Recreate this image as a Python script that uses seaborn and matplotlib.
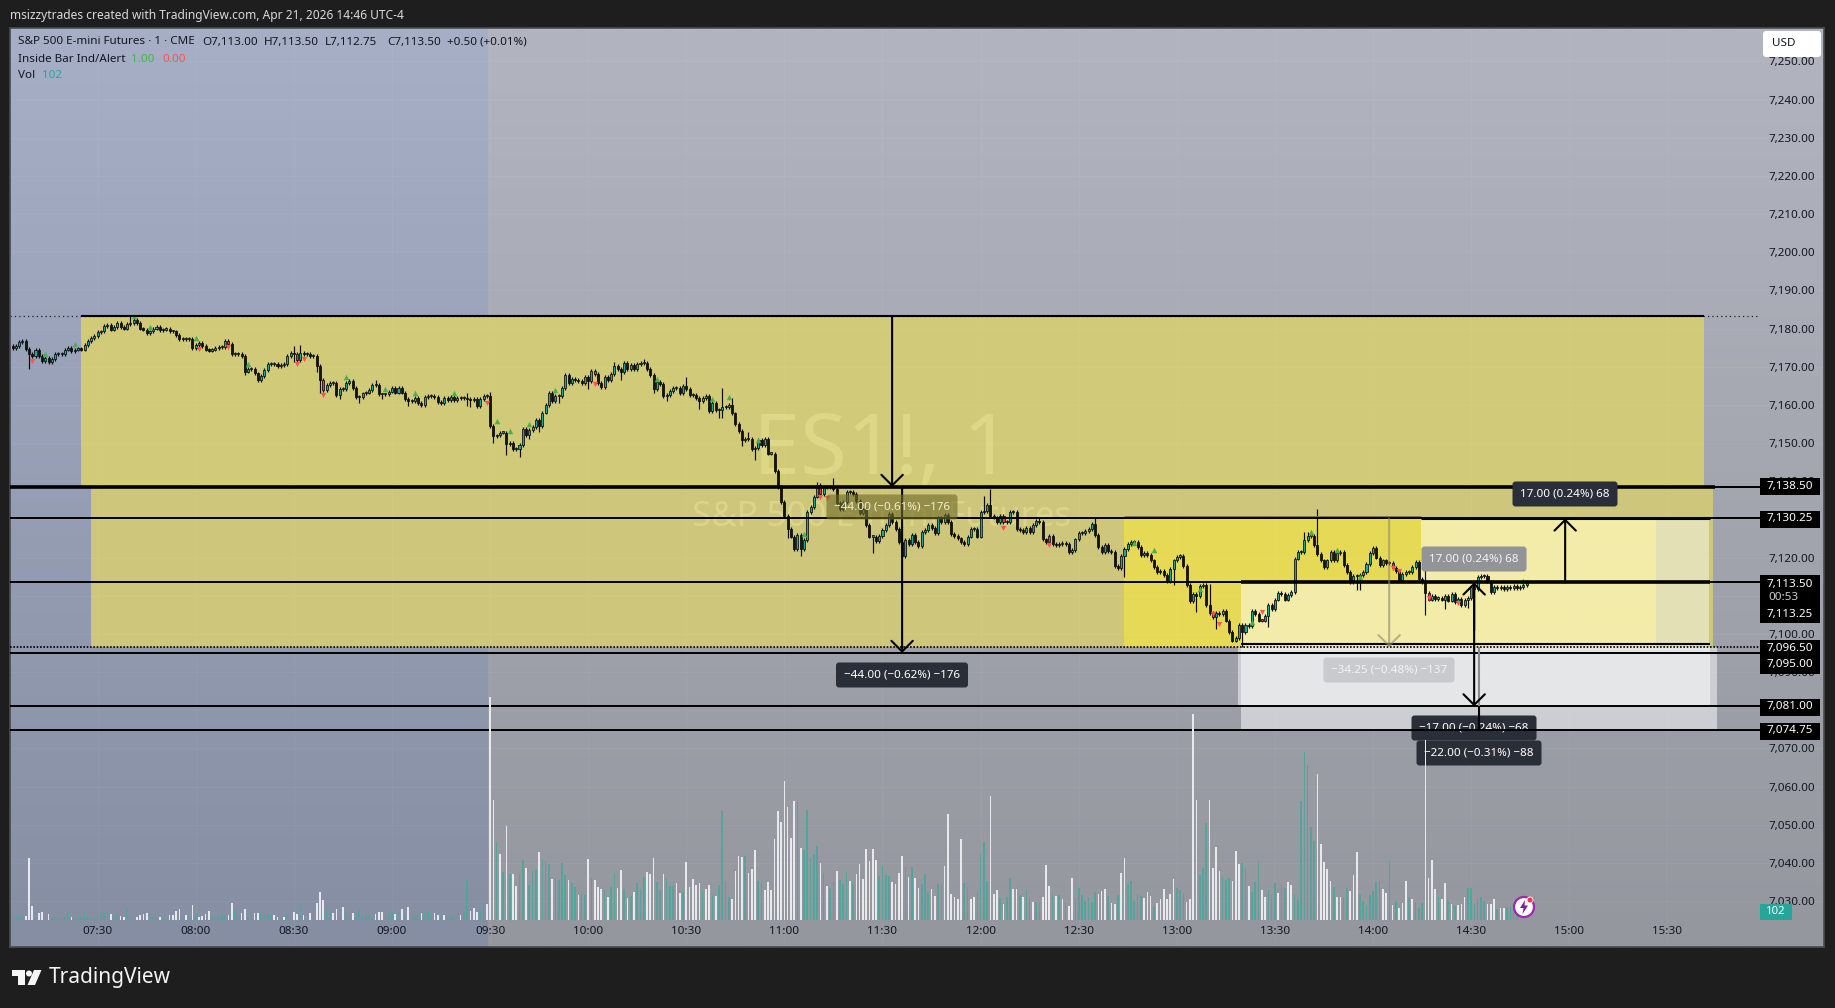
import numpy as np
import pandas as pd
import matplotlib
matplotlib.use("Agg")
import matplotlib.pyplot as plt
import seaborn as sns
from matplotlib.patches import FancyBboxPatch, Rectangle, Circle, Polygon
from matplotlib.transforms import Affine2D

W, H = 1835, 1008
# ---------- data ----------
closes_pre = [7175,7175.5,7176.5,7176.75,7174.75,7173.25,7172.75,7174.5,7172.75,7171.5,7172.25,7171.25,7172,7173.25,7173.25,7173.25,7174.5,7175,7174,7174.5,7174.75,7174.5,7175.75,
7176.75,7177.5,7178,7179,7179.25,7180.75,7181,7179.75,7180.5,7181.5,7180.5,7180,7181.25,7181.5,7182.25,7181.5,7180,7179.75,7178.75,7179.25,7180,7180.5,7179.5,7179.75,7180,7179.25,7179.25,7178.25,7177.25,7177.25,7177.25,7177.25,7175,7175.75,7176.25,7175.5,7174.5,7174.25,7174.5,7175,7175.25,7175.25,7176.75,7176,7173.25,7173.25,7173.25,7172.75,7168.75,7169.5,7169.5,7168.25,7166.5,7167.5,7169.25,7170.75,7170.75,7170.75,7170.25,7170.5,7170.75,7172.75,7173.5,7173.25,7171.75,7173.5,7173.25,7173.25,7172.75,7172.75,7170.25,7166.5,7164,7165.25,7165.75,7165.75,7162.5,7164.25,7164.25,7165.75,7166.25,7164.5,7162,7162,7163,7163.25,7164,7165.25,7165.25,7162.75,7162.75,7162.75,7163.5,7164.5,7163.25,7164.5,7163.25,7161.5,7161,7161,7161.75,7160.5,7160,7162,7162.25,7162.25,7162,7160.75,7160.5,7161.75,7161.25,7162,7161.25,7161.75,7161.75,7161.75,7161.5,7161.25,7161.5,7159.75,7161.5,7162.25,7162.25]
closes_rth = [7154.5,7151.75,7152,7152.75,7152.75,7149.75,7150,7148.5,7148.5,7149.5,7153.75,7152,7153.5,7154.25,7156,7154.5,7158,7160,7163.25,7161,7162.25,7162.25,7164.5,7167.75,7165.75,7166.75,7166.5,7166.25,7165.75,7167.25,7166.25,7169,7168,7165.75,7164.75,7167.25,7166.5,7168,7170.25,7169.5,7168.5,7171,7169.5,7170.5,7169.5,7170.75,7171,7171,7169.5,7167.75,7164.25,7166,7165.5,7162.25,7162.5,7163.75,7164.5,7164.5,7163,7165,7164.25,7162.5,7162.5,7161.75,7161,7161.75,7162.25,7158.5,7160.5,7158.75,7158.75,7159.5,7159.5,7160,7157.75,7155,7153.25,7150.75,7151,7151,7148.5,7148.75,7150.75,7149.5,7151,7147.25,7147.25,7142.75,7138.5,7134.5,7131,7127.5,7125.5,7122.25,7126,7122.25,7124.5,7132,7133.25,7136,7139,7136.75,7138.5,7138.5,7138.5,7138,7134.25,7132.75,7134.5,7137.25,7137.25,7136.75,7134.75,7131.75,7132.75,7128.5,7125.5,7125.5,7124.25,7125.75,7127.25,7128.5,7131.5,7129.25,7127.5,7124,7120.5,7124.5,7123.5,7126,7124,7123,7126.75,7127.25,7128.5,7127.75,7126.5,7130.5,7129.25,7131.25,7129.25,7126.25,7125.75,7125,7124,7123.5,7125.5,7127.5,7127.5,7125.5,7132,7132.25,7133.75,7131,7130.5,7129.25,7131,7129.25,7129.25,7132,7132,7127.5,
7127.25,7126.75,7127.75,7126.75,7128.5,7129.5,7129.25,7124.75,7124,7125.75,7123.5,7123.25,7123.5,7123.75,7123.5,7121.5,7122,7124.75,7126.5,7126.5,7127,7127.5,7128.75,7126,7122.75,7121.5,7123.25,7121.75,7121.5,7117.75,7117.25,7120.5,7122.25,7123.5,7124,7124,7122.75,7120.75,7121.25,7120.75,7119.25,7117.5,7116.25,7116.5,7115.5,7113.75,7117,7119.25,7120.25,7120.5,7117.75,7112.75,7108.5,7110.5,7110,7112.5,7112.75,7107.5,7105.5,7104.5,7105.5,7105.25,7106,7103.5,7100.5,7098.25,7099,7102.25,7100.5,7102.25,7102,7106,7105.25,7103.5,7103.5,7104.75,7107.5,7106.5,7109,7110.75,7110.5,7109,7110.25,7111,7119.75,7121.5,7121.5,7124.5,7125.75,7125.75,7123.25,7121,7119.25,7117.5,7119.25,7121.5,7119.25,7121.25,7121.5,7118,7116.25,7113.5,7115.25,7115.25,7115.5,7116.25,7118.25,7121.25,7122.5,7120,7118,7119.25,7118.5,7118.5,7117.25,7116.5,7114.25,7115.75,7116.25,7116.25,7117.5,7118.75,7114.5,7113.5,7110.75,7109,7110,7109.25,7109.5,7109,7110,7108.75,7110.5,7108.25,7109.25,7107.5,7109,7109.5,7112.25,7111.75,7115,7115.25,7115.25,7113.75,7111,7112.25,7112,7112.25,7111.75,7112.25,7112,7112.5,7112,7112.25,7112.75,7113.5]
first_open = 7175.5
rth_open = 7162.25

long_high_t = [452,460,510,512,535,563,570,608,617,630,641,644,649,670,675,721,723,738,755,790,819,820,823,856]
long_high_p = [7181.25,7183.25,7175.5,7175.75,7166.5,7163.25,7163.5,7171.25,7172,7167.25,7164.5,7161.75,7153,7139.75,7140.9,7136.25,7137.9,7130.6,7130.4,7113.1,7126.75,7126.75,7132.75,7120.1]
long_low_t = [429,495,498,500,510,517,518,519,524,530,537,545,563,564,571,575,579,582,585,590,591,600,610,620,624,634,640,641,644,647,651,661,663,665,687,697,764,779,786,791,792,800,808,835,836,856,858,862,869]
long_low_p = [7169.5,7167.75,7167.75,7166,7171.25,7168.5,7163.25,7163.5,7161.5,7160.5,7161.5,7159.75,7159.75,7159.5,7150,7146.75,7146.4,7151,7153,7160.4,7160.4,7164.2,7166.5,7163,7160.9,7159,7156.5,7156.5,7157.5,7149.25,7145.5,7125,7122.5,7120.4,7121.25,7120.4,7114.9,7112.9,7105.7,7104.6,7101.3,7096.5,7101.75,7111.4,7111.4,7105,7108.75,7106.4,7106.8]

green_t = [434,443,461,466,480,496,526,538,547,559,572,576,582,590,621,638,643,652,666,767,773,787,803,821,829,836,886]
green_p = [7173.4,7176,7183.3,7180.4,7177.6,7170.6,7167.3,7164.2,7163.1,7163.1,7155.8,7153.1,7155,7163.9,7166.8,7161.6,7162.1,7150.8,7126.3,7123.7,7122.1,7111.8,7103,7126.7,7122.1,7115,7113.75]
red_t = [430,481,490,511,513,519,569,602,671,673,727,741,791,793,806,846,848,857,866]
red_p = [7171.4,7174.6,7175.1,7170.6,7172,7162.7,7160.6,7165.6,7136,7135.5,7127.8,7123.2,7105.1,7102.5,7105.7,7117.2,7116.5,7109.4,7108.1]
red_body_t = [481,490,511,519,602,671,727,741,791,806,846,857]

vol_pre = [10,8,15,15,-12,-185,-42,5,-20,-24,12,-18,8,8,10,5,10,24,-10,5,10,8,28,10,10,10,28,22,28,12,-17,8,22,-12,-10,36,15,8,-10,-16,-18,-20,10,8,6,-8,10,5,-14,-14,-28,-32,8,-16,5,-44,18,-10,-12,-18,-26,12,8,8,14,12,-14,-52,34,6,-22,-34,8,24,-22,-22,20,18,18,16,-16,-8,10,-10,18,8,-24,-18,48,-16,8,-22,36,-50,-85,-60,40,22,-22,-32,12,-40,22,24,-20,10,32,12,14,14,8,-18,-24,-24,12,15,24,-18,12,-32,8,-40,18,18,14,-20,22,24,16,-20,-16,10,-16,10,12,8,20,-14,24,122,-26,-35,-24,33,55,-48]
vol_rth = [-670,-360,233,-198,143,-282,137,-137,-102,137,180,-156,105,147,150,-204,180,174,168,-123,126,120,171,135,-120,111,99,-75,81,75,-183,126,-120,-99,-93,90,-69,99,141,-96,-150,93,-66,72,-84,111,93,129,-144,-138,-186,114,90,-138,126,102,102,-111,-81,84,-174,-99,-123,-105,-111,87,-93,-105,75,-72,105,327,117,69,-63,-147,-192,-189,192,-141,-153,-210,117,111,-90,-114,-90,-243,-327,-294,-417,-339,-246,-357,354,-216,210,330,186,198,222,-171,141,-102,96,117,-147,120,108,144,-117,108,-138,-168,-123,-213,-177,-213,-180,132,162,135,132,-114,-108,-141,-192,159,-129,159,-126,-96,108,138,84,-93,-72,108,105,-162,-318,-78,-69,-63,-243,111,99,-63,-69,84,198,234,117,-372,
-78,-90,66,-48,69,126,-93,-93,75,-69,90,66,-54,54,54,-69,-165,-102,75,-72,75,-63,54,-42,-126,66,96,75,57,69,54,84,-78,-87,-93,72,-51,-48,75,-141,-186,108,117,57,78,72,-66,-84,-72,39,-51,-63,-93,-63,-78,-123,96,90,81,-54,-63,-618,-360,135,156,291,-360,-156,-219,-147,132,120,126,-117,-207,-168,171,156,-102,84,114,177,-90,-69,90,75,111,-81,105,96,-114,-105,78,60,357,504,465,279,237,-438,-228,-174,-153,-117,99,-69,-69,66,96,-87,-135,-204,78,57,45,75,87,114,117,-93,-81,177,-45,57,-36,-51,-117,69,-63,54,36,51,-540,-126,-180,-93,69,-63,-111,57,-48,42,-45,-48,-69,96,96,48,63,69,57,-48,-48,-63,33,-36,-36,39,42,30,34]

levels = [7138.5,7130.25,7113.5,7095,7081,7074.75]
zone_top = 7183.25
dotted_levels = [7096.5,7183.25]
y_ticks = list(range(7030,7251,10))
x_tick_minutes = list(range(450,931,30))

# ---------- theme ----------
sns.set_theme(style="white")
plt.rcParams["font.family"] = ["Noto Sans","DejaVu Sans"]
INK = "#131722"; TEAL = "#26a69a"

fig = plt.figure(figsize=(W/100,H/100),dpi=100,facecolor="#1e1e1e")
ax = fig.add_axes([10/W,(H-947)/H,1814/W,919/H])
px = Affine2D().scale(1,-1).translate(0,H)
XL = (423.2,977.9); YL = (7017.96,7258.76)
t_of = lambda x: 450+(x-97.6)/3.27

def grad(c0,c1):
    a = np.linspace(np.array(matplotlib.colors.to_rgb(c0)),np.array(matplotlib.colors.to_rgb(c1)),200)
    return a[:,None,:]
ax.imshow(grad("#a6afc6","#868ea3"),extent=[XL[0],569.5,YL[0],YL[1]],aspect="auto",zorder=-5,interpolation="bilinear")
ax.imshow(grad("#b2b4c0","#95979f"),extent=[569.5,XL[1],YL[0],YL[1]],aspect="auto",zorder=-5,interpolation="bilinear")

def zone(x0,x1,p0,p1,c,z=0.2,alpha=1):
    ax.add_patch(Rectangle((t_of(x0),p0),t_of(x1)-t_of(x0),p1-p0,fc=c,ec="none",zorder=z,alpha=alpha))
zone(81,1704,7138.5,zone_top,"#d1ca78")
zone(91,1713,7096.5,7138.5,"#cec77b")
zone(1124,1421,7096.5,7130.25,"#e6d956")
zone(1421,1709,7113.5,7130.25,"#f3eba8")
zone(1241,1709,7096.5,7113.5,"#f3eba8")
zone(1656,1709,7096.5,7130.25,"#e3e0b6",z=0.3)
zone(1238,1242,7081,7096.5,"#cdced3")
zone(1710,1717,7074.75,7096.5,"#cdced3")
zone(1241,1710,7081,7096.5,"#e5e6e8")
zone(1241,1710,7074.75,7081,"#cdced3")

ax.set_xlim(*XL); ax.set_ylim(*YL)
ax.grid(True,color="white",alpha=0.045,lw=0.8)
ax.set_axisbelow(True)

ax.text(882,452,"ES1!, 1",transform=px,ha="center",va="center",fontsize=61,color="#ffffb0",alpha=0.28,zorder=0.4)
ax.text(882,517,"S&P 500 E-mini Futures",transform=px,ha="center",va="center",fontsize=25,color="#ffffb0",alpha=0.25,zorder=0.4)

times_pre = np.arange(570-len(closes_pre),570)
times_rth = np.arange(570,570+len(closes_rth))
times = np.concatenate([times_pre,times_rth])
closes = np.array(closes_pre+closes_rth,dtype=float)
opens = np.r_[first_open,closes[:-1]]
opens[len(closes_pre)] = rth_open
df = pd.DataFrame({"t":times,"open":opens,"close":closes}).set_index("t",drop=False)
df["high"] = df[["open","close"]].max(axis=1)+0.5
df["low"] = df[["open","close"]].min(axis=1)-0.5
for t,h in zip(long_high_t,long_high_p):
    if t in df.index: df.loc[t,"high"]=max(df.loc[t,"high"],h)
for t,l in zip(long_low_t,long_low_p):
    if t in df.index: df.loc[t,"low"]=min(df.loc[t,"low"],l)
df["up"] = df.close>=df.open
ax.vlines(df.t,df.low,df.high,color="#0a0a0a",lw=0.85,zorder=2.2)
bot = df[["open","close"]].min(axis=1)
ht = (df.close-df.open).abs().clip(lower=0.3)
cols = np.where(df.up,TEAL,"#141414").astype(object)
cols[df.t.isin(red_body_t).values] = "#f23645"
ax.bar(df.t,ht,bottom=bot,width=0.62,color=list(cols),edgecolor="#0a0a0a",linewidth=0.55,zorder=2.3)
sns.scatterplot(x=green_t,y=green_p,marker="^",color="#4caf50",s=16,linewidth=0,ax=ax,zorder=2.4)
sns.scatterplot(x=red_t,y=red_p,marker="v",color="#ff5252",s=14,linewidth=0,ax=ax,zorder=2.4)

XR = t_of(1760)
ax.hlines(levels,XL[0],XR,color="black",lw=1.4,zorder=3)
ax.hlines(7138.5,XL[0],t_of(1715),color="black",lw=2.6,zorder=3)
ax.hlines(zone_top,t_of(81),t_of(1704),color="black",lw=1.5,zorder=3)
ax.hlines(7130.25,t_of(1421),t_of(1710),color="black",lw=2.2,zorder=3)
ax.hlines(7113.5,t_of(1241),t_of(1710),color="black",lw=2.6,zorder=3)
ax.hlines(7097.25,t_of(1241),t_of(1710),color="black",lw=1.5,zorder=3)
ax.hlines(7130.25+0.4,t_of(1124),t_of(1421),color="#7f7530",lw=2,zorder=2.9)
ax.hlines(dotted_levels[0],XL[0],XR,color="black",lw=1.2,linestyles=(0,(1,1)),zorder=3)
ax.hlines(dotted_levels[1],XL[0],t_of(1757),color="#222222",lw=0.9,linestyles=(0,(1,2.5)),zorder=1)

def arrow(x,p0,p1,color="black",lw=1.5,z=3.2,alpha=1):
    ax.annotate("",xy=(t_of(x),p1),xytext=(t_of(x),p0),zorder=z,annotation_clip=False,
        arrowprops=dict(arrowstyle="->,head_length=0.55,head_width=0.55",lw=lw,color=color,shrinkA=0,shrinkB=0,mutation_scale=14,alpha=alpha))
arrow(892,zone_top,7138.5)
arrow(902,7138.5,7095)
arrow(1565,7113.5,7130.25)
arrow(1389,7130.25,7096.5,color="#8c8a70",alpha=0.6)
arrow(1474,7113.5,7081)
arrow(1474,7101,7113.5)
ax.vlines(t_of(1479),7096.5,7081,color="#8a8a8a",lw=1.5,zorder=3)
ax.vlines(t_of(1479),7081,7074.75,color="black",lw=1.5,zorder=3)

def tag(cx,cy,w,h,s,fc="#2a2e39",tc="white",alpha=1,z=4,talpha=1):
    ax.add_patch(FancyBboxPatch((cx-w/2+3,cy-h/2+3),w-6,h-6,boxstyle="round,pad=3,rounding_size=3",transform=px,fc=fc,ec="none",alpha=alpha,zorder=z,clip_on=False))
    ax.text(cx,cy,s,transform=px,ha="center",va="center",color=tc,fontsize=8.4,zorder=z+0.1,alpha=talpha)
tag(892,507,131,25,"\u221244.00 (\u22120.61%) \u2212176",fc="#6f6a2a",alpha=0.62,tc="#f2efc8")
tag(902,675,132,25,"\u221244.00 (\u22120.62%) \u2212176")
tag(1565,494,105,25,"17.00 (0.24%) 68")
tag(1474,559,105,25,"17.00 (0.24%) 68",fc="#939498",tc="#f4f4f4")
tag(1389,670,131,25,"\u221234.25 (\u22120.48%) \u2212137",fc="#c9cacd",tc="#f4f4f4")
tag(1474,728,125,25,"\u221217.00 (\u22120.24%) \u221268",z=2.8)
tag(1479,753,125,25,"\u221222.00 (\u22120.31%) \u221288")

vols = np.array(vol_pre+vol_rth,dtype=float)
vt = np.r_[np.arange(570-len(vol_pre),570),np.arange(570,570+len(vol_rth))]
vdf = pd.DataFrame({"t":vt,"vol":np.abs(vols),"side":np.where(vols>=0,"up","down")})
ax2 = ax.twinx()
ax2.patch.set_visible(False)
sns.barplot(data=vdf,x="t",y="vol",hue="side",palette={"up":"#56a39d","down":"#e8e9ec"},native_scale=True,dodge=False,width=0.5,legend=False,saturation=1,linewidth=0,ax=ax2,zorder=5)
ax2.set_ylim(-81,2757-81)
ax2.set(xlabel=None,ylabel=None)
ax2.yaxis.set_visible(False)
ax2.grid(False)
for s in ax2.spines.values(): s.set_visible(False)

ax.set_xlim(*XL); ax.set_ylim(*YL); ax2.set_xlim(*XL)
ax.yaxis.tick_right()
ax.set_yticks(y_ticks)
ax.set_yticklabels([f"{v:,.2f}" for v in y_ticks])
ax.tick_params(axis="y",length=0,pad=-40,labelsize=8.4,labelcolor=INK)
ax.set_xticks(x_tick_minutes)
ax.set_xticklabels([f"{m//60:02d}:{m%60:02d}" for m in x_tick_minutes])
ax.tick_params(axis="x",length=0,pad=-15,labelsize=8.4,labelcolor=INK,labelbottom=True)
for lab,m in zip(ax.get_xticklabels(),x_tick_minutes):
    if m%60==0: lab.set_fontweight("bold")
ax.set_xlabel(""); ax.set_ylabel("")
for s in ax.spines.values():
    s.set_visible(True); s.set_color("#4a4b50"); s.set_linewidth(1.2)

def ptag(cy,s,h=17):
    ax.add_patch(Rectangle((1760,cy-h/2),60,h,transform=px,fc="black",ec="none",zorder=6,clip_on=False))
    ax.text(1790,cy,s,transform=px,ha="center",va="center",color="white",fontsize=8.4,zorder=6.1)
ptag(486,"7,138.50"); ptag(519,"7,130.25")
ax.add_patch(Rectangle((1760,575),60,48,transform=px,fc="black",ec="none",zorder=6))
ax.text(1790,584,"7,113.50",transform=px,ha="center",va="center",color="white",fontsize=8.4,zorder=6.1)
ax.text(1783,598,"00:53",transform=px,ha="center",va="center",color="#cccccc",fontsize=8.4,zorder=6.1)
ax.text(1790,614,"7,113.25",transform=px,ha="center",va="center",color="white",fontsize=8.4,zorder=6.1)
ptag(648,"7,096.50")
ax.add_patch(Rectangle((1760,656),60,18,transform=px,fc="black",ec="none",zorder=6))
ax.text(1790,665,"7,095.00",transform=px,ha="center",va="center",color="white",fontsize=8.4,zorder=6.1)
ptag(707,"7,081.00"); ptag(731,"7,074.75")
ax.add_patch(Rectangle((1760,904),32,16,transform=px,fc=TEAL,ec="none",zorder=6))
ax.text(1776,912,"102",transform=px,ha="center",va="center",color="white",fontsize=8.2,zorder=6.1)
ax.add_patch(FancyBboxPatch((1766,34),52,20,boxstyle="round,pad=3,rounding_size=3",transform=px,fc="white",ec="none",zorder=6,clip_on=False))
ax.text(1772,44,"USD",transform=px,ha="left",va="center",color=INK,fontsize=8.4,zorder=6.1)

def L(x,y,s,c=INK,fs=8.4,**k):
    ax.text(x,y,s,transform=px,ha="left",va="center",color=c,fontsize=fs,zorder=7,clip_on=False,**k)
L(18,42,"S&P 500 E-mini Futures \u00b7 1 \u00b7 CME")
L(202,42,"O7,113.00"); L(264,42,"H7,113.50"); L(325,42,"L7,112.75"); L(387,42,"C7,113.50"); L(447,42,"+0.50 (+0.01%)")
L(18,59,"Inside Bar Ind/Alert"); L(131,59,"1.00","#4caf50"); L(162,59,"0.00","#ff5252")
L(18,75,"Vol"); L(42,75,"102",TEAL)
L(10,15,"msizzytrades created with TradingView.com, Apr 21, 2026 14:46 UTC-4","#d9d9d9",8.6)
L(49,977,"TradingView","#f5f5f5",15,fontweight="semibold")

fig.add_artist(Polygon([(12,970),(25,970),(25,985),(18,985),(18,976),(12,976)],transform=px,fc="#f5f5f5",ec="none"))
fig.add_artist(Circle((29,973.5),3,transform=px,fc="#f5f5f5",ec="none"))
fig.add_artist(Polygon([(34,970),(41.5,970),(35,985),(27.5,985)],transform=px,fc="#f5f5f5",ec="none"))
fig.add_artist(Circle((1524,907),10,transform=px,fc="white",ec="#9c27b0",lw=1.6,zorder=8))
fig.add_artist(Polygon([(1525,900),(1520,908),(1523.5,908),(1522.5,914),(1528,905.5),(1524.5,905.5)],transform=px,fc="#7b1fa2",ec="none",zorder=9))
fig.add_artist(Circle((1530,900),3,transform=px,fc="#f23645",ec="white",lw=0.6,zorder=9))

fig.savefig("out.png",dpi=100,facecolor=fig.get_facecolor())
